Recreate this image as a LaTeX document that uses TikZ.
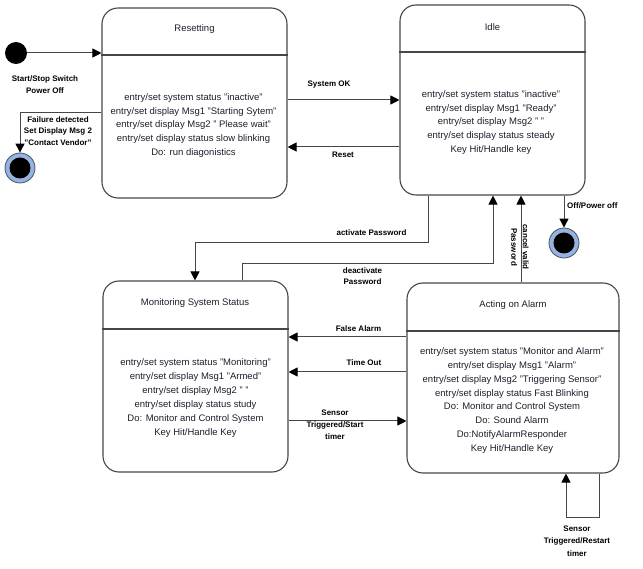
\documentclass[tikz,border=0pt]{standalone}
\usepackage{fontspec}
\setmainfont{Liberation Sans}
\usetikzlibrary{arrows.meta}
\definecolor{linec}{RGB}{70,70,70}
\definecolor{txt}{RGB}{30,30,45}
\definecolor{ringc}{RGB}{150,178,222}
\definecolor{ringd}{RGB}{70,80,100}
\begin{document}
\begin{tikzpicture}[x=1pt,y=-1pt,
  state/.style={draw=linec, line width=1.1pt, rounded corners=16pt, rectangle, inner sep=0pt},
  divider/.style={draw=linec, line width=1.1pt},
  body/.style={font=\fontsize{9.5}{13.9}\selectfont, text=txt, align=center, inner sep=0pt},
  title/.style={font=\fontsize{9.5}{12}\selectfont, text=txt, inner sep=0pt},
  lbl/.style={font=\bfseries\fontsize{8}{11.5}\selectfont, align=center, inner sep=0pt},
  arr/.style={draw=linec, line width=1pt, -{Triangle[length=9pt,width=9pt,color=black]}},
  initst/.style={circle, fill=black, minimum size=22pt, inner sep=0pt},
  finalst/.style={circle, fill=ringc, draw=ringd, line width=0.8pt, minimum size=30pt, inner sep=0pt,
    path picture={\fill[black] (path picture bounding box.center) circle (10.5pt);}}]
\useasboundingbox (0,0) rectangle (643,569);

% states
\node[state, minimum width=185pt, minimum height=190pt] (reset) at (194.5,103) {};
\draw[divider] (reset.west |- 0,55) -- (reset.east |- 0,55);
\node[title] (resetT) at (194.5,29) {Resetting};
\node[body] (resetB) at (193.5,125.5) {entry/set system status "inactive"\\entry/set display Msg1 "Starting Sytem"\\entry/set display Msg2 " Please wait"\\entry/set display status slow blinking\\Do: run diagonistics};

\node[state, minimum width=185pt, minimum height=190pt] (idle) at (492.5,100) {};
\draw[divider] (idle.west |- 0,52) -- (idle.east |- 0,52);
\node[title] (idleT) at (492.5,27) {Idle};
\node[body] (idleB) at (491,122.5) {entry/set system status "inactive"\\entry/set display Msg1 "Ready"\\entry/set display Msg2 " "\\entry/set display status steady\\Key Hit/Handle key};

\node[state, minimum width=185pt, minimum height=191pt] (mon) at (195.5,376.5) {};
\draw[divider] (mon.west |- 0,329) -- (mon.east |- 0,329);
\node[title] (monT) at (195,303) {Monitoring System Status};
\node[body] (monB) at (195.5,398) {entry/set system status "Monitoring"\\entry/set display Msg1 "Armed"\\entry/set display Msg2 " "\\entry/set display status study\\Do: Monitor and Control System\\Key Hit/Handle Key};

\node[state, minimum width=212pt, minimum height=190pt] (act) at (513,378) {};
\draw[divider] (act.west |- 0,331) -- (act.east |- 0,331);
\node[title] (actT) at (513,305) {Acting on Alarm};
\node[body] (actB) at (512,400.5) {entry/set system status "Monitor and Alarm"\\entry/set display Msg1 "Alarm"\\entry/set display Msg2 "Triggering Sensor"\\entry/set display status Fast Blinking\\Do: Monitor and Control System\\Do: Sound Alarm\\Do:NotifyAlarmResponder\\Key Hit/Handle Key};

% pseudo states
\node[initst] (init) at (16,53) {};
\node[finalst] (fin1) at (20,168) {};
\node[finalst] (fin2) at (564,243) {};

% transitions
\draw[arr] (init) -- (reset.west |- init);
\node[lbl] (initL) at (45,84.5) {Start/Stop Switch\\Power Off};

\draw[arr] (reset.west |- 0,113) -| (fin1.north);
\node[lbl] (failL) at (58,131) {Failure detected\\Set Display Msg 2\\"Contact Vendor"};

\draw[arr] (reset.east |- 0,100) -- (idle.west |- 0,100);
\node[lbl] (okL) at (329,85) {System OK};
\draw[arr] (idle.west |- 0,147) -- (reset.east |- 0,147);
\node[lbl] (resetL) at (343,155) {Reset};

\draw[arr] (idle.south -| 428,0) -- (428,243) -- (195,243) -- (mon.north -| 195,0);
\node[lbl] (actvL) at (371.5,233) {activate Password};

\draw[arr] (mon.north -| 242,0) -- (242,264) -- (493,264) -- (idle.south -| 493,0);
\node[lbl] (deactL) at (362.5,276) {deactivate\\Password};

\draw[arr] (act.north -| 521,0) -- (idle.south -| 521,0);
\node[lbl, rotate=-90] (cancelL) at (520,247) {cancel valid\\Password};

\draw[arr] (idle.south -| fin2) -- (fin2.north);
\node[lbl, anchor=west] (offL) at (567,206) {Off/Power off};

\draw[arr] (act.west |- 0,337) -- (mon.east |- 0,337);
\node[lbl] (falseL) at (358.5,329) {False Alarm};
\draw[arr] (act.west |- 0,372) -- (mon.east |- 0,372);
\node[lbl] (timeL) at (364,363) {Time Out};
\draw[arr] (mon.east |- 0,421) -- (act.west |- 0,421);
\node[lbl, font=\bfseries\fontsize{8}{12}\selectfont] (sensL) at (335,425) {Sensor\\Triggered/Start\\timer};

\draw[arr] (act.south -| 599,0) -- (599,517) -- (566,517) -- (act.south -| 566,0);
\node[lbl, font=\bfseries\fontsize{8}{12.5}\selectfont] (loopL) at (577,541) {Sensor\\Triggered/Restart\\timer};
\end{tikzpicture}
\end{document}
